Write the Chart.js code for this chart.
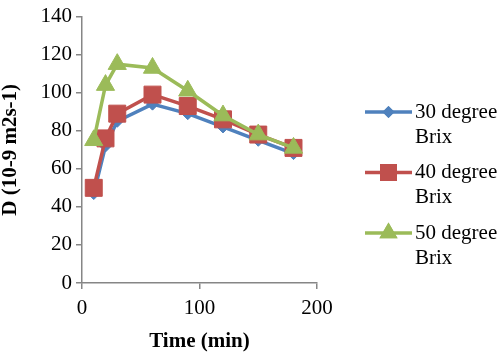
<!DOCTYPE html>
<html>
<head>
<meta charset="utf-8">
<script src="https://cdn.jsdelivr.net/npm/chart.js@4/dist/chart.umd.min.js"></script>
<style>
  html, body { margin: 0; padding: 0; background: #fff; }
  #wrap { position: relative; width: 500px; height: 355px; }
</style>
</head>
<body>
<div id="wrap"><canvas id="chart" width="500" height="355"></canvas></div>
<script>
// data
const times = [10, 20, 30, 60, 90, 120, 150, 180];
const brix30 = [47, 72, 85, 94, 89, 82, 75, 68];
const brix40 = [50, 76, 89, 99, 93, 86, 78, 71];
const brix50 = [75, 104, 115, 113, 101, 88, 78, 71];
const seriesNames = ['30 degree Brix', '40 degree Brix', '50 degree Brix'];
const xTicks = [0, 100, 200];
const yTicks = [0, 20, 40, 60, 80, 100, 120, 140];

const FONT = "'Liberation Serif', 'Times New Roman', serif";
const AXIS = '#868686';

function toPoints(ys) {
    return ys.map((y, i) => ({ x: times[i], y: y }));
}

// later series sit on top, like the original (lower order is drawn last)
function makeSet(label, ys, color, style, radius, order) {
    return {
        label: label,
        data: toPoints(ys),
        order: order,
        borderColor: color,
        backgroundColor: color,
        borderWidth: 3.5,
        pointStyle: style,
        pointRadius: radius,
        pointHoverRadius: radius,
        pointBorderWidth: 1,
        tension: 0
    };
}

// legend drawn on the right, label split in two lines like the original
const sideLegend = {
    id: 'sideLegend',
    afterDraw(chart) {
        const ctx = chart.ctx;
        ctx.save();
        ctx.font = '21px ' + FONT;
        ctx.textBaseline = 'middle';
        chart.data.datasets.forEach((ds, i) => {
            const y = 112 + i * 60.5;
            ctx.strokeStyle = ds.borderColor;
            ctx.lineWidth = ds.borderWidth;
            ctx.beginPath();
            ctx.moveTo(365, y);
            ctx.lineTo(412, y);
            ctx.stroke();
            ctx.fillStyle = ds.backgroundColor;
            Chart.helpers.drawPoint(ctx, {
                pointStyle: ds.pointStyle,
                radius: ds.pointRadius,
                rotation: 0,
                borderWidth: 0
            }, 388.5, y);
            ctx.fill();
            ctx.fillStyle = '#000';
            const words = ds.label.split(' ');
            const last = words.pop();
            ctx.fillText(words.join(' '), 415, y);
            ctx.fillText(last, 415, y + 25);
        });
        ctx.restore();
    }
};

new Chart(document.getElementById('chart'), {
    type: 'line',
    data: {
        datasets: [
            makeSet(seriesNames[0], brix30, '#4F81BD', 'rectRot', 6, 2),
            makeSet(seriesNames[1], brix40, '#C0504D', 'rect', 12, 1),
            makeSet(seriesNames[2], brix50, '#9BBB59', 'triangle', 10.5, 0)
        ]
    },
    options: {
        responsive: false,
        animation: false,
        layout: { padding: { left: 0, right: 183, top: 12, bottom: 0 } },
        plugins: {
            legend: { display: false },
            tooltip: { enabled: false }
        },
        scales: {
            x: {
                type: 'linear',
                min: xTicks[0],
                max: xTicks[xTicks.length - 1],
                afterBuildTicks: (s) => { s.ticks = xTicks.map(v => ({ value: v })); },
                afterFit: (s) => { s.height = 72; },
                border: { display: true, color: AXIS, width: 1.5 },
                grid: { drawOnChartArea: false, color: AXIS, tickLength: 6, lineWidth: 1.5 },
                ticks: { color: '#000', font: { family: FONT, size: 21 }, padding: 7, maxRotation: 0 },
                title: {
                    display: true,
                    text: 'Time (min)',
                    color: '#000',
                    font: { family: FONT, size: 21, weight: 'bold' },
                    padding: { top: 0, bottom: 1 }
                }
            },
            y: {
                min: yTicks[0],
                max: yTicks[yTicks.length - 1],
                afterBuildTicks: (s) => { s.ticks = yTicks.map(v => ({ value: v })); },
                afterFit: (s) => { s.width = 82; },
                border: { display: true, color: AXIS, width: 1.5 },
                grid: { drawOnChartArea: false, color: AXIS, tickLength: 6, lineWidth: 1.5 },
                ticks: { color: '#000', font: { family: FONT, size: 21 }, padding: 4 },
                title: {
                    display: true,
                    text: 'D (10-9 m2s-1)',
                    color: '#000',
                    font: { family: FONT, size: 21, weight: 'bold', lineHeight: 1 },
                    padding: { top: 0, bottom: 0 }
                }
            }
        }
    },
    plugins: [sideLegend]
});
</script>
</body>
</html>
